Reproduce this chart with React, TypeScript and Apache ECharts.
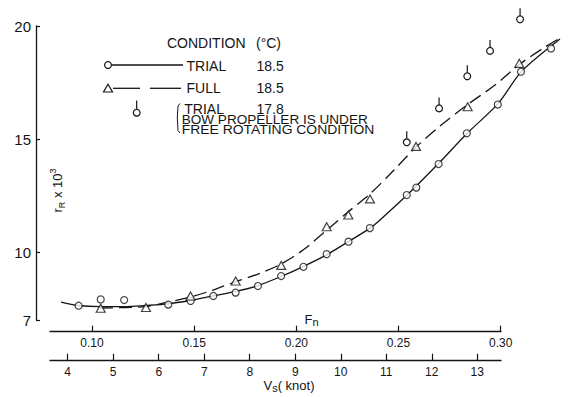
import React, { useEffect, useRef } from "react";
import * as echarts from "echarts";

// Tick labels
const yTicks = [7, 10, 15, 20];
const fnTicks = [0.1, 0.15, 0.2, 0.25, 0.3];
const vsTicks = [4, 5, 6, 7, 8, 9, 10, 11, 12, 13];

// TRIAL 18.5 (circles), x = Vs (knot), y = rR x 10^3
const trialVs = [4.24, 4.725, 5.24, 6.21, 6.7, 7.2, 7.69, 8.18, 8.69, 9.18, 9.69, 10.17, 10.64, 11.45, 11.66, 12.15, 12.77, 13.45, 13.96, 14.62];
const trialR = [7.64, 7.92, 7.89, 7.69, 7.85, 8.07, 8.22, 8.51, 8.95, 9.36, 9.92, 10.47, 11.07, 12.53, 12.86, 13.9, 15.26, 16.53, 17.98, 19.01];

// FULL 18.5 (triangles)
const fullVs = [4.725, 5.72, 6.698, 7.691, 8.691, 9.691, 10.166, 10.643, 11.654, 12.789, 13.923];
const fullR = [7.53, 7.56, 8.07, 8.73, 9.42, 11.13, 11.65, 12.36, 14.68, 16.43, 18.35];

// TRIAL 17.8, bow propeller free rotating (circle with stem)
const bowVs = [11.45, 12.16, 12.78, 13.28, 13.94];
const bowR = [14.86, 16.36, 17.78, 18.9, 20.3];

// Faired curves
const trialCurveVs = [3.853, 4.226, 4.71, 5.237, 5.72, 6.204, 6.687, 7.193, 7.698, 8.182, 8.687, 9.171, 9.698, 10.159, 10.643, 10.862, 11.456, 12.137, 12.774, 13.455, 13.939, 14.378, 14.817];
const trialCurveR = [7.8, 7.65, 7.6, 7.6, 7.65, 7.72, 7.87, 8.07, 8.27, 8.53, 8.93, 9.37, 9.9, 10.46, 11.07, 11.43, 12.53, 13.9, 15.25, 16.57, 17.92, 18.72, 19.43];
const fullCurveVs = [4.71, 5.699, 6.204, 6.687, 7.193, 7.698, 8.182, 8.687, 9.171, 9.698, 10.159, 10.643, 11.148, 11.654, 12.181, 12.774, 13.389, 13.939, 14.488, 14.817];
const fullCurveR = [7.54, 7.6, 7.8, 8.02, 8.33, 8.71, 9.04, 9.48, 10.1, 10.99, 11.78, 12.58, 13.59, 14.65, 15.58, 16.51, 17.39, 18.32, 19.07, 19.47];

const FONT = "Liberation Sans, Arial, sans-serif";
const INK = "#151515";

const zip = (a: number[], b: number[]) => a.map((v, i) => [v, b[i]]);

export default function App() {
  const ref = useRef<HTMLDivElement>(null);
  useEffect(() => {
    if (!ref.current) return;
    const chart = echarts.init(ref.current, null, { renderer: "svg" });
    const pxPerKnot = 45.51;
    const vsMin = 3.611;
    const plotW = 516;
    const axisW = 451;
    const txt = (text: string, x: number, y: number, size = 14, extra: any = {}) => ({
      type: "text",
      x,
      y,
      style: { text, fill: INK, fontFamily: FONT, fontSize: size, verticalAlign: "middle", align: "left", ...extra },
    });
    const option: any = {
      animation: false,
      backgroundColor: "#fff",
      grid: [
        { left: 50, top: 26, width: plotW, height: 294.2 },
        { left: 50, top: 26, width: axisW, height: 305.7 },
        { left: 50, top: 26, width: axisW, height: 334.7 },
      ],
      xAxis: [
        {
          type: "value", gridIndex: 0, min: vsMin, max: vsMin + plotW / pxPerKnot,
          axisLine: { show: false }, axisTick: { show: false }, axisLabel: { show: false }, splitLine: { show: false },
        },
        {
          type: "value", gridIndex: 1, position: "bottom", min: 0.07945, max: 0.30015,
          axisLine: { show: true, lineStyle: { color: INK, width: 1.3 } },
          axisTick: { show: true, inside: true, length: 6, customValues: fnTicks, lineStyle: { color: INK, width: 1.2 } },
          axisLabel: { show: true, customValues: fnTicks, formatter: (v: number) => v.toFixed(2), color: INK, fontFamily: FONT, fontSize: 12, margin: 5 },
          splitLine: { show: false },
        },
        {
          type: "value", gridIndex: 2, position: "bottom", min: vsMin, max: vsMin + axisW / pxPerKnot,
          axisLine: { show: true, lineStyle: { color: INK, width: 1.3 } },
          axisTick: { show: true, inside: true, length: 7, customValues: vsTicks, lineStyle: { color: INK, width: 1.2 } },
          axisLabel: { show: true, customValues: vsTicks, color: INK, fontFamily: FONT, fontSize: 12, margin: 5 },
          splitLine: { show: false },
        },
      ],
      yAxis: [
        {
          type: "value", gridIndex: 0, min: 7, max: 20, offset: 14,
          axisLine: { show: true, lineStyle: { color: INK, width: 1.3 } },
          axisTick: { show: true, inside: true, length: 4, customValues: yTicks, lineStyle: { color: INK, width: 1.2 } },
          axisLabel: { show: true, customValues: yTicks, color: INK, fontFamily: FONT, fontSize: 15, margin: 5 },
          splitLine: { show: false },
        },
        { type: "value", gridIndex: 1, min: 0, max: 1, show: false },
        { type: "value", gridIndex: 2, min: 0, max: 1, show: false },
      ],
      series: [
        {
          type: "line", xAxisIndex: 0, yAxisIndex: 0, data: zip(trialCurveVs, trialCurveR), smooth: 0.3,
          showSymbol: false, symbol: "none", lineStyle: { color: INK, width: 1.3 }, z: 2, clip: false,
        },
        {
          type: "line", xAxisIndex: 0, yAxisIndex: 0, data: zip(fullCurveVs, fullCurveR), smooth: 0.3,
          showSymbol: false, symbol: "none", lineStyle: { color: INK, width: 1.3, type: [13, 6] }, z: 2, clip: false,
        },
        {
          type: "scatter", name: "TRIAL 18.5", xAxisIndex: 0, yAxisIndex: 0, data: zip(trialVs, trialR),
          symbol: "circle", symbolSize: 7, itemStyle: { color: "#fff", borderColor: INK, borderWidth: 1.2 }, z: 4, clip: false,
        },
        {
          type: "scatter", name: "FULL 18.5", xAxisIndex: 0, yAxisIndex: 0, data: zip(fullVs, fullR),
          symbol: "triangle", symbolSize: [9, 8], itemStyle: { color: "#fff", borderColor: INK, borderWidth: 1.2 }, z: 4, clip: false,
        },
        {
          type: "custom", name: "TRIAL 17.8", xAxisIndex: 0, yAxisIndex: 0, data: zip(bowVs, bowR), z: 4, clip: false,
          renderItem: (_p: any, api: any) => {
            const c = api.coord([api.value(0), api.value(1)]);
            return {
              type: "group",
              children: [
                { type: "line", shape: { x1: c[0], y1: c[1] - 3.5, x2: c[0], y2: c[1] - 11 }, style: { stroke: INK, lineWidth: 1.2 } },
                { type: "circle", shape: { cx: c[0], cy: c[1], r: 3.4 }, style: { fill: "#fff", stroke: INK, lineWidth: 1.2 } },
              ],
            };
          },
        },
      ],
      graphic: [
        // y-axis title
        {
          type: "text", x: 57, y: 190.5, rotation: Math.PI / 2,
          style: {
            text: "{a|r}{s|R}{a| x 10}{p|3}", align: "center", verticalAlign: "middle", fill: INK,
            rich: {
              a: { fontSize: 13, fontFamily: FONT, lineHeight: 18, verticalAlign: "middle", fill: INK },
              s: { fontSize: 9, fontFamily: FONT, lineHeight: 9, verticalAlign: "bottom", fill: INK },
              p: { fontSize: 9, fontFamily: FONT, lineHeight: 9, verticalAlign: "top", fill: INK },
            },
          },
        },
        // Fn label
        {
          type: "text", x: 311.5, y: 319,
          style: {
            text: "{a|F}{s|n}", align: "center", verticalAlign: "middle", fill: INK,
            rich: {
              a: { fontSize: 13, fontFamily: FONT, lineHeight: 16, verticalAlign: "middle", fill: INK },
              s: { fontSize: 11, fontFamily: FONT, lineHeight: 10, verticalAlign: "bottom", fill: INK },
            },
          },
        },
        // Vs (knot) label
        {
          type: "text", x: 289, y: 385,
          style: {
            text: "{a|V}{s|s}{a|( knot)}", align: "center", verticalAlign: "middle", fill: INK,
            rich: {
              a: { fontSize: 13, fontFamily: FONT, lineHeight: 16, verticalAlign: "middle", fill: INK },
              s: { fontSize: 11, fontFamily: FONT, lineHeight: 10, verticalAlign: "bottom", fill: INK },
            },
          },
        },
        // Legend
        txt("CONDITION", 167, 42.5, 14),
        txt("(°C)", 256, 42.5, 14),
        { type: "line", shape: { x1: 111.5, y1: 65, x2: 183, y2: 65 }, style: { stroke: INK, lineWidth: 1.3 } },
        { type: "circle", shape: { cx: 108, cy: 65, r: 3.4 }, style: { fill: "#fff", stroke: INK, lineWidth: 1.2 } },
        txt("TRIAL", 186.5, 66, 14),
        txt("18.5", 256.5, 66, 14),
        { type: "line", shape: { x1: 113, y1: 88.3, x2: 140, y2: 88.3 }, style: { stroke: INK, lineWidth: 1.3 } },
        { type: "line", shape: { x1: 150, y1: 88.3, x2: 181, y2: 88.3 }, style: { stroke: INK, lineWidth: 1.3 } },
        { type: "polygon", shape: { points: [[108, 84.3], [112.5, 92], [103.5, 92]] }, style: { fill: "#fff", stroke: INK, lineWidth: 1.2 } },
        txt("FULL", 186.5, 87.5, 14),
        txt("18.5", 256.5, 87.5, 14),
        { type: "line", shape: { x1: 136.7, y1: 100.5, x2: 136.7, y2: 109.3 }, style: { stroke: INK, lineWidth: 1.2 } },
        { type: "circle", shape: { cx: 136.7, cy: 112.7, r: 3.4 }, style: { fill: "#fff", stroke: INK, lineWidth: 1.2 } },
        { type: "polyline", shape: { points: [[180, 103.5], [178, 106], [177.3, 118], [178, 130.5], [180, 133]] }, style: { stroke: INK, lineWidth: 1, fill: null } },
        txt("TRIAL", 184.3, 109, 14),
        txt("17.8", 256.5, 109, 14),
        { type: "text", x: 181.7, y: 119.5, scaleX: 1.13, style: { text: "BOW PROPELLER IS UNDER", fill: INK, fontFamily: FONT, fontSize: 12, verticalAlign: "middle", align: "left" } },
        { type: "text", x: 181.7, y: 129.5, scaleX: 1.16, style: { text: "FREE ROTATING CONDITION", fill: INK, fontFamily: FONT, fontSize: 12, verticalAlign: "middle", align: "left" } },
      ],
    };
    chart.setOption(option);
    return () => chart.dispose();
  }, []);
  return <div ref={ref} style={{ position: "absolute", left: 0, top: 0, width: 576, height: 397, background: "#fff" }} />;
}
